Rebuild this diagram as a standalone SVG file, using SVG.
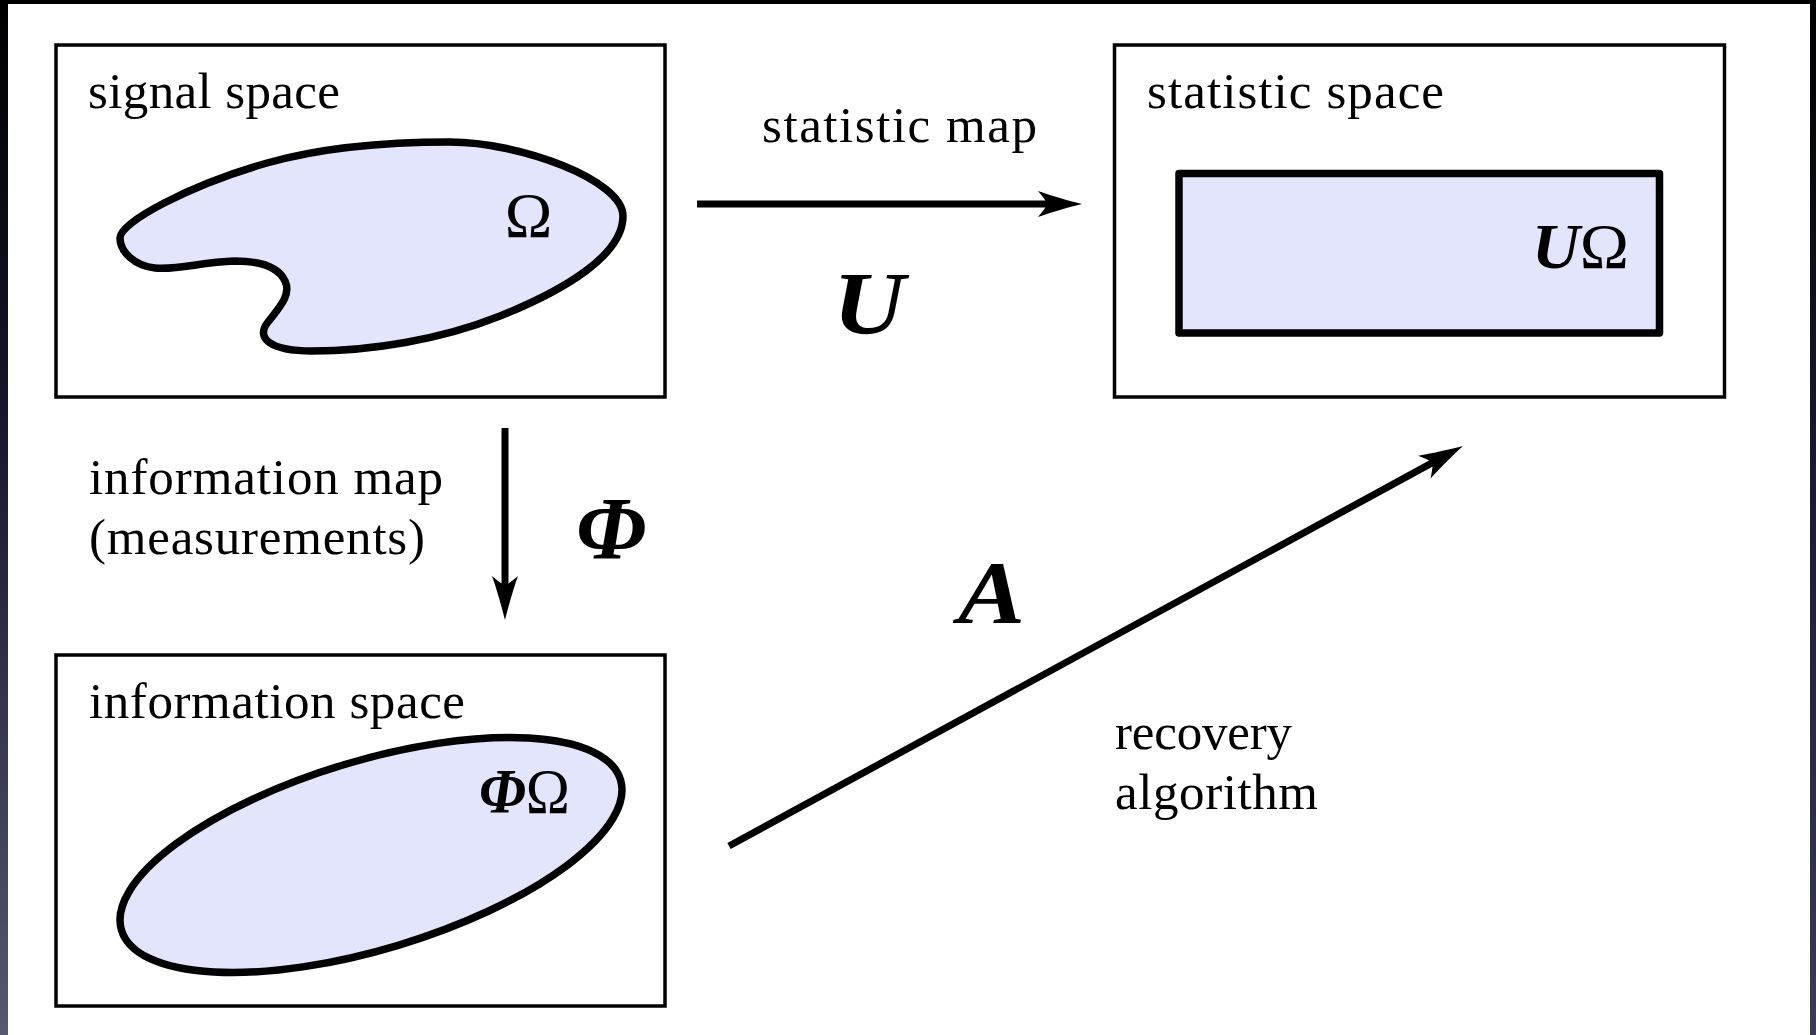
<svg xmlns="http://www.w3.org/2000/svg" xmlns:xlink="http://www.w3.org/1999/xlink" width="1816" height="1035" viewBox="0 0 1816 1035">
  <style>
    .box { fill: #ffffff; stroke: #000000; stroke-width: 3.5; }
    .region { fill: #e3e5fc; stroke: #000000; stroke-width: 7.5; stroke-linejoin: round; }
    .conn { fill: none; stroke: #000000; stroke-width: 7; stroke-linecap: butt; }
    .head { fill: #000000; stroke: none; }
    .t { font-family: "Liberation Serif", "Times New Roman", serif; font-size: 51px; fill: #000000; }
    .m { font-family: "Liberation Serif", "Times New Roman", serif; font-size: 89px; font-style: italic; font-weight: bold; fill: #000000; }
    .s { font-family: "Liberation Serif", "Times New Roman", serif; font-size: 64px; fill: #000000; }
    .bi { font-style: italic; font-weight: bold; }
  </style>
  <defs>
    <linearGradient id="edgeL" x1="0" y1="0" x2="0" y2="1">
      <stop offset="0" stop-color="#000000"/>
      <stop offset="0.4" stop-color="#15162a"/>
      <stop offset="1" stop-color="#56586c"/>
    </linearGradient>
    <linearGradient id="edgeR" x1="0" y1="0" x2="0" y2="1">
      <stop offset="0" stop-color="#000000"/>
      <stop offset="0.5" stop-color="#1c1d33"/>
      <stop offset="1" stop-color="#3a3c52"/>
    </linearGradient>
    <path id="ah" class="head" d="M 0,0 C -12,-3 -30,-8 -44,-13 C -38,-6 -36,-3 -35,0 C -36,3 -38,6 -44,13 C -30,8 -12,3 0,0 Z"/>
  </defs>

  <rect x="0" y="0" width="1816" height="1035" fill="#ffffff"/>
  <rect x="0" y="0" width="1816" height="4" fill="#000000"/>
  <rect x="0" y="0" width="8" height="1035" fill="url(#edgeL)"/>
  <rect x="1810" y="0" width="6" height="1035" fill="url(#edgeR)"/>

  <g id="signal-space">
    <rect class="box" x="56" y="45" width="609" height="352"/>
    <text class="t" x="88" y="108" textLength="252" lengthAdjust="spacing">signal space</text>
    <path class="region" d="M 120,238 C 120,222 190,185 267,163 C 327,146 400,142 450,142 C 520,142 623,180 623,216 C 623,255 565,290 500,316 C 440,340 370,351 312,351 C 270,351 255,338 268,322 C 278,309 292,295 285,281 C 278,266 258,261 235,261 C 200,262 180,270 155,268 C 135,266 120,252 120,238 Z"/>
    <text class="s" x="528.5" y="237" text-anchor="middle">Ω</text>
  </g>

  <g id="statistic-space">
    <rect class="box" x="1114.5" y="45" width="610" height="352"/>
    <text class="t" x="1147" y="108" textLength="297" lengthAdjust="spacing">statistic space</text>
    <rect class="region" x="1179" y="173.5" width="480.5" height="159.5"/>
    <text class="s" x="1532" y="268" textLength="97" lengthAdjust="spacingAndGlyphs"><tspan class="bi">U</tspan>Ω</text>
  </g>

  <g id="information-space">
    <rect class="box" x="56" y="655" width="609" height="351"/>
    <text class="t" x="89" y="718" textLength="376" lengthAdjust="spacing">information space</text>
    <ellipse class="region" cx="371" cy="855" rx="260.6" ry="94.3" transform="rotate(-16.78 371 855)"/>
    <text class="s" x="479" y="813" textLength="91" lengthAdjust="spacingAndGlyphs"><tspan class="bi">Φ</tspan>Ω</text>
  </g>

  <g id="connectors">
    <g id="statistic-map">
      <line class="conn" x1="697" y1="204" x2="1048" y2="204"/>
      <use xlink:href="#ah" href="#ah" transform="translate(1082,204)"/>
      <text class="t" x="762" y="142" textLength="275" lengthAdjust="spacing">statistic map</text>
      <text class="m" x="833" y="333" textLength="72" lengthAdjust="spacingAndGlyphs">U</text>
    </g>
    <g id="information-map">
      <line class="conn" x1="505" y1="428" x2="505" y2="586"/>
      <use xlink:href="#ah" href="#ah" transform="translate(505,620) rotate(90)"/>
      <text class="t" x="89" y="494" textLength="354" lengthAdjust="spacing">information map</text>
      <text class="t" x="89" y="554" textLength="336" lengthAdjust="spacing">(measurements)</text>
      <text class="m" x="576" y="558">Φ</text>
    </g>
    <g id="recovery-algorithm">
      <line class="conn" x1="729" y1="846" x2="1433" y2="462.4"/>
      <use xlink:href="#ah" href="#ah" transform="translate(1463,446) rotate(-28.59)"/>
      <text class="m" x="958" y="622" textLength="67" lengthAdjust="spacingAndGlyphs">A</text>
      <text class="t" x="1115" y="749" textLength="177" lengthAdjust="spacing">recovery</text>
      <text class="t" x="1115" y="808.5" textLength="203" lengthAdjust="spacing">algorithm</text>
    </g>
  </g>
</svg>
